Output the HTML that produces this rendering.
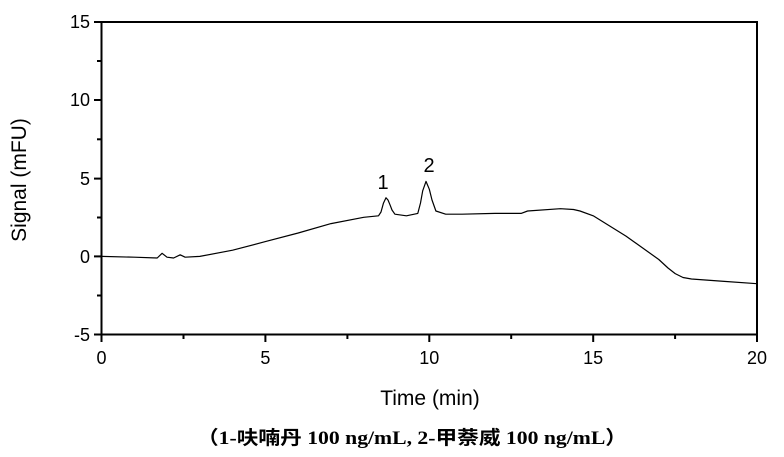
<!DOCTYPE html>
<html><head><meta charset="utf-8"><style>
body{margin:0;background:#fff;}
svg text{font-family:"Liberation Sans",Arial,sans-serif;fill:#000;}
</style></head><body>
<svg width="784" height="452" viewBox="0 0 784 452" xmlns="http://www.w3.org/2000/svg">
<rect x="101.5" y="22" width="655.5" height="312.5" fill="none" stroke="#000" stroke-width="2"/>
<g stroke="#000" stroke-width="2">
<line x1="94" y1="22" x2="101.5" y2="22"/><line x1="94" y1="100" x2="101.5" y2="100"/>
<line x1="94" y1="178.6" x2="101.5" y2="178.6"/><line x1="94" y1="256.4" x2="101.5" y2="256.4"/>
<line x1="94" y1="334.5" x2="101.5" y2="334.5"/>
<line x1="97" y1="61" x2="101.5" y2="61"/><line x1="97" y1="139.3" x2="101.5" y2="139.3"/>
<line x1="97" y1="217.5" x2="101.5" y2="217.5"/><line x1="97" y1="295.5" x2="101.5" y2="295.5"/>
<line x1="101.5" y1="334.5" x2="101.5" y2="342"/><line x1="265.4" y1="334.5" x2="265.4" y2="342"/>
<line x1="429.3" y1="334.5" x2="429.3" y2="342"/><line x1="593.2" y1="334.5" x2="593.2" y2="342"/>
<line x1="757" y1="334.5" x2="757" y2="342"/>
<line x1="183.5" y1="334.5" x2="183.5" y2="339"/><line x1="347.4" y1="334.5" x2="347.4" y2="339"/>
<line x1="511.2" y1="334.5" x2="511.2" y2="339"/><line x1="675.1" y1="334.5" x2="675.1" y2="339"/>
</g>
<g font-size="18" text-anchor="end">
<text x="90" y="28">15</text><text x="90" y="106">10</text><text x="90" y="185">5</text>
<text x="90" y="263">0</text><text x="90" y="341">-5</text>
</g>
<g font-size="18" text-anchor="middle">
<text x="101.5" y="364">0</text><text x="265.4" y="364">5</text><text x="429.3" y="364">10</text>
<text x="593.2" y="364">15</text><text x="757" y="364">20</text>
</g>
<text x="430" y="405" font-size="21" text-anchor="middle">Time (min)</text>
<text x="0" y="0" font-size="21" text-anchor="middle" transform="translate(26,180) rotate(-90)">Signal (mFU)</text>
<text x="383" y="189" font-size="20" text-anchor="middle">1</text>
<text x="429" y="172" font-size="20" text-anchor="middle">2</text>
<polyline fill="none" stroke="#000" stroke-width="1.2" stroke-linejoin="round" points="101.5,256.4 134.3,257.2 157.2,258 162.1,253.3 167,257.2 173.6,258 180.2,254.8 185.1,257.2 199.8,256.4 232.6,250.2 265.4,241.6 298.2,233 331,223.6 363.7,217.3 378.5,215.8 381,212 383.4,203.3 386,197.8 388,200 390,204.8 392,210 394.9,214.2 406.4,215.8 417.8,213.4 420.5,203 422.7,190.8 426,181.4 429.3,189.2 432,200 435.9,211 445.7,214.2 462.1,214.2 494.9,213.4 521.1,213.4 527.6,211 560.4,208.7 573.5,209.5 580,211 593.2,215.8 626,236.1 658.8,259.5 668,268 675.2,273.6 683,277.5 691.5,279 724.3,281.4 757,283.7"/>
<text x="412" y="444" font-size="19" font-weight="bold" text-anchor="middle" textLength="430" lengthAdjust="spacingAndGlyphs" style="font-family:'Liberation Serif','Noto Sans CJK SC',serif">（1-呋喃丹  100 ng/mL, 2-甲萘威 100 ng/mL）</text>
</svg>
</body></html>
